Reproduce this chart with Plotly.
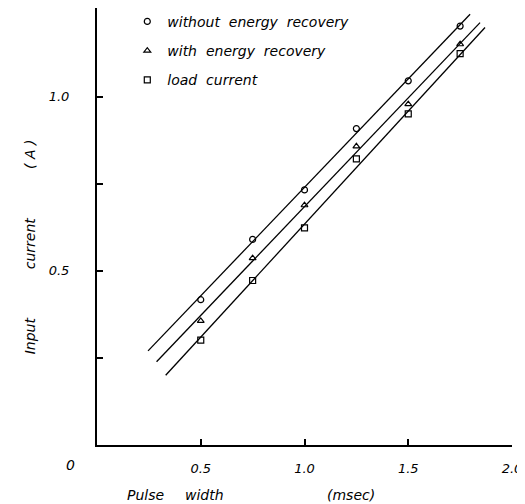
import plotly.graph_objects as go

# Data
pulse_width = [0.5, 0.75, 1.0, 1.25, 1.5, 1.75]
without_recovery = [0.417, 0.590, 0.732, 0.908, 1.045, 1.202]
with_recovery = [0.356, 0.536, 0.688, 0.857, 0.978, 1.150]
load_current = [0.301, 0.472, 0.623, 0.821, 0.950, 1.123]

# Fitted straight lines (end points)
fit_without_x = [0.246, 1.798]
fit_without_y = [0.270, 1.236]
fit_with_x = [0.287, 1.846]
fit_with_y = [0.239, 1.212]
fit_load_x = [0.331, 1.870]
fit_load_y = [0.200, 1.198]

x_tickvals = [0.5, 1.0, 1.5, 2.0]
x_ticktext = ["0.5", "1.0", "1.5", "2.0"]
y_tickvals = [0.25, 0.5, 0.75, 1.0]
y_ticktext = ["", "0.5", "", "1.0"]

FONT = "DejaVu Sans"
ink = "black"

fig = go.Figure()

for fx, fy in [(fit_without_x, fit_without_y), (fit_with_x, fit_with_y), (fit_load_x, fit_load_y)]:
    fig.add_trace(go.Scatter(x=fx, y=fy, mode="lines", line=dict(color=ink, width=1.3),
                             showlegend=False, hoverinfo="skip"))

series = [
    ("without  energy  recovery", without_recovery, "circle-open"),
    ("with  energy  recovery", with_recovery, "triangle-up-open"),
    ("load  current", load_current, "square-open"),
]
for i, (name, ys, sym) in enumerate(series):
    fig.add_trace(go.Scatter(x=pulse_width, y=ys, mode="markers", name=name, legendgroup=f"g{i}",
                             marker=dict(symbol=sym, size=6, color=ink, line=dict(width=1.2, color=ink))))

lab_font = dict(family=FONT, size=14, style="italic", color=ink)
annots = [
    dict(text="0", x=-0.065, y=-0.046, xanchor="center", yanchor="middle"),
    dict(text="Pulse", x=0.0675, y=-0.114, xanchor="left", yanchor="middle"),
    dict(text="width", x=0.207, y=-0.114, xanchor="left", yanchor="middle"),
    dict(text="(msec)", x=0.549, y=-0.114, xanchor="left", yanchor="middle"),
    dict(text="Input", x=-0.161, y=0.249, xanchor="center", yanchor="middle", textangle=-90),
    dict(text="current", x=-0.161, y=0.462, xanchor="center", yanchor="middle", textangle=-90),
    dict(text="( A )", x=-0.161, y=0.664, xanchor="center", yanchor="middle", textangle=-90),
]
for a in annots:
    a.update(xref="paper", yref="paper", showarrow=False, font=lab_font)

# The page body has an 8px margin, so the figure is sized to fill the rest of the window.
fig.update_layout(
    width=517, height=496,
    margin=dict(l=89, r=13, t=0, b=59, autoexpand=False),
    paper_bgcolor="white", plot_bgcolor="white",
    font=dict(family=FONT, size=13, color=ink, style="italic"),
    showlegend=True,
    legend=dict(x=0.073, y=1.005, xanchor="left", yanchor="top", bgcolor="rgba(0,0,0,0)",
                font=dict(family=FONT, size=14, style="italic"), traceorder="grouped",
                tracegroupgap=8),
    xaxis=dict(range=[0, 2.0], tickvals=x_tickvals, ticktext=x_ticktext, ticks="inside",
               ticklen=6, tickwidth=1.5, tickcolor=ink, showline=True, linewidth=2, linecolor=ink,
               showgrid=False, zeroline=False, ticklabelstandoff=10, automargin=False,
               tickfont=dict(family=FONT, size=13, style="italic")),
    yaxis=dict(range=[0, 1.254], tickvals=y_tickvals, ticktext=y_ticktext, ticks="inside",
               ticklen=6, tickwidth=1.5, tickcolor=ink, showline=True, linewidth=2, linecolor=ink,
               showgrid=False, zeroline=False, ticklabelstandoff=23, automargin=False,
               tickfont=dict(family=FONT, size=13, style="italic")),
    annotations=annots,
)

fig.write_html("out.html")
